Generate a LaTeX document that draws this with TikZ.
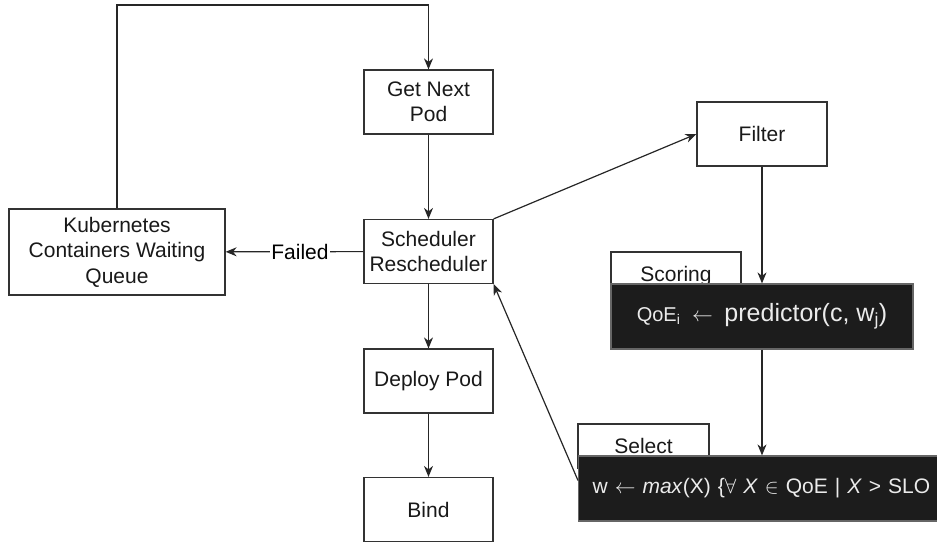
\documentclass[tikz,border=0pt]{standalone}
\usepackage{fontspec}
\setmainfont{Liberation Sans}
\usetikzlibrary{arrows.meta}

\begin{document}
\begin{tikzpicture}[x=1pt, y=-1pt, >={Stealth[length=11pt,width=9pt,inset=3.5pt]},
  font=\fontsize{21}{25.5}\selectfont,
  line width=1.2pt,
  box/.style={draw=black!80, fill=white, text=black!90, align=center, inner sep=0pt,
    minimum width=129pt, minimum height=64pt},
  blk/.style={draw=black!60, fill=black!89, text=white!92!black, inner sep=0pt,
    minimum height=65pt},
  con/.style={->, draw=black!85}]
  \useasboundingbox (0,0) rectangle (937,543);
  % main column.
  \node[box] (N) at (428.5,102)   {Get Next\\Pod};
  \node[box] (S) at (428.5,251.5) {Scheduler\\Rescheduler};
  \node[box] (D) at (428.5,381)   {Deploy Pod};
  \node[box] (B) at (428.5,509.5) {Bind};
  \node[box, minimum width=216pt, minimum height=86pt] (Q) at (117,252)
    {Kubernetes\\Containers Waiting\\Queue};
  % filter / score / select.
  \node[box, minimum width=130pt] (F) at (762,134) {Filter};
  \node[box, minimum width=130pt, minimum height=48pt] (C) at (676,276) {Scoring};
  \node[blk, minimum width=302pt] (P) at (762,316.5)
    {{\fontsize{20}{22}\selectfont QoE\textsubscript{i}} ~$\leftarrow$~
     {\fontsize{25}{27}\selectfont predictor(c, w\textsubscript{j})}};
  \node[box, minimum width=131pt, minimum height=44pt] (L) at (643.5,446) {Select};
  \node[blk, anchor=west, text width=345pt, align=left, inner xsep=14pt] (M) at (578,488.5)
    {w $\leftarrow$ \textit{max}(X) \{$\forall$ \textit{X} $\in$ QoE | \textit{X} > SLO};
  \coordinate (T) at (117,5);
  % connectors.
  \draw[con] (N) -- (S);
  \draw[con] (S) -- (D);
  \draw[con] (D) -- (B);
  \draw[con] (Q.north) -- (T) -| (N.north);
  \draw[con] (S) -- node[pos=0.46, fill=white, inner sep=1pt] {Failed} (Q);
  \draw[con] (S.north east) -- (F.west);
  \draw[con] (F.south) -- (P.north);
  \draw[con] (P.south) -- (P.south |- M.north);
  \draw[con] ([yshift=8pt]M.west) -- (S.south east);
\end{tikzpicture}
\end{document}
